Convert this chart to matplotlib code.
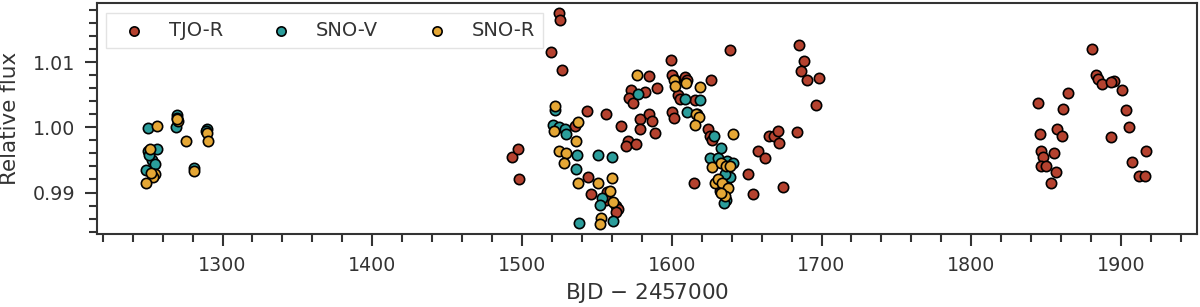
#!/usr/bin/env python3
"""
Relative flux light curve of the star from three instruments (TJO-R, SNO-V, SNO-R).
"""

import numpy as np
import matplotlib.pyplot as plt
from matplotlib.ticker import MultipleLocator, FormatStrFormatter

# TJO-R photometry: BJD - 2457000, relative flux
tjo_t = [1493.1, 1497.4, 1498.2, 1519.2, 1524.4, 1525.6, 1526.4, 1543.1, 1535.1,
         1544.1, 1546.4, 1555.9, 1557.0, 1556.4, 1563.0, 1564.2, 1562.6, 1566.3,
         1570.8, 1569.6, 1576.3, 1573.0, 1571.4, 1574.1, 1581.9, 1584.8, 1590.3,
         1578.6, 1578.5, 1584.8, 1586.8, 1589.0, 1599.3, 1600.4, 1608.6, 1610.4,
         1625.9, 1604.1, 1605.2, 1615.7, 1600.1, 1601.5, 1617.0, 1624.1, 1625.3,
         1627.0, 1614.8, 1639.0, 1650.8, 1654.5, 1657.4, 1662.5, 1665.2, 1668.5,
         1670.7, 1671.4, 1674.5, 1683.6, 1685.2, 1688.5, 1686.3, 1690.3, 1698.5,
         1696.3, 1636.0, 1632.0, 1880.3, 1883.6, 1884.7, 1887.4, 1895.2, 1893.5,
         1900.7, 1903.0, 1905.2, 1893.0, 1917.0, 1907.4, 1911.9, 1916.3, 1864.5,
         1844.7, 1861.2, 1857.4, 1860.7, 1845.6, 1846.3, 1848.1, 1855.2, 1846.3,
         1849.6, 1856.7, 1853.4]
tjo_f = [0.9955, 0.9967, 0.9921, 1.0115, 1.0175, 1.0165, 1.0088, 1.0025, 1.0002,
         0.9924, 0.9897, 1.0020, 0.9901, 0.9888, 0.9879, 0.9875, 0.9870, 1.0002,
         0.9979, 0.9971, 0.9975, 1.0058, 1.0045, 1.0038, 1.0054, 1.0078, 1.0061,
         1.0013, 0.9998, 1.0021, 1.0009, 0.9991, 1.0104, 1.0080, 1.0077, 1.0073,
         1.0072, 1.0050, 1.0044, 1.0042, 1.0023, 1.0014, 1.0020, 0.9998, 0.9987,
         0.9980, 0.9914, 1.0119, 0.9929, 0.9898, 0.9964, 0.9953, 0.9987, 0.9987,
         0.9994, 0.9976, 0.9908, 0.9993, 1.0126, 1.0102, 1.0086, 1.0072, 1.0075,
         1.0034, 0.9912, 0.9902, 1.0120, 1.0081, 1.0074, 1.0067, 1.0071, 1.0069,
         1.0057, 1.0026, 1.0000, 0.9985, 0.9963, 0.9947, 0.9926, 0.9926, 1.0052,
         1.0038, 1.0028, 0.9998, 0.9987, 0.9989, 0.9963, 0.9954, 0.9961, 0.9941,
         0.9941, 0.9932, 0.9915]

# SNO-V photometry
snov_t = [1250.5, 1269.7, 1269.2, 1289.7, 1250.5, 1256.4, 1252.6, 1255.1, 1248.7,
          1280.8, 1251.0, 1269.5, 1288.8,
          1522.3, 1520.8, 1524.8, 1528.5, 1529.6, 1537.0, 1536.3, 1537.9, 1550.8,
          1560.1, 1553.4, 1552.0, 1560.8, 1577.5, 1609.0, 1619.0, 1610.4, 1602.0,
          1627.9, 1633.0, 1625.3, 1630.8, 1637.0, 1640.8, 1636.4, 1638.6, 1635.3,
          1635.0]
snov_f = [0.99985, 1.0019, 1.0001, 0.9997, 0.9963, 0.9967, 0.9950, 0.9943, 0.9935,
          0.9938, 0.9958, 1.0014, 0.9995,
          1.0026, 1.0004, 1.0001, 0.9998, 0.9989, 0.9958, 0.9936, 0.9854, 0.9958,
          0.9954, 0.9892, 0.9881, 0.9857, 1.0051, 1.0043, 1.0042, 1.0024, 1.0072,
          0.9987, 0.9969, 0.9953, 0.9953, 0.9949, 0.9945, 0.9888, 0.9924, 0.9928,
          0.9884]

# SNO-R photometry
snor_t = [1256.4, 1270.5, 1269.8, 1275.6, 1289.7, 1290.5, 1251.8, 1255.1, 1253.8,
          1249.2, 1280.8, 1252.5,
          1522.3, 1521.4, 1537.2, 1536.3, 1524.5, 1529.2, 1528.1, 1537.1, 1550.8,
          1560.1, 1558.5, 1560.8, 1553.0, 1551.9, 1576.8, 1601.5, 1601.9, 1609.7,
          1618.6, 1616.4, 1618.0, 1615.7, 1640.8, 1627.0, 1632.6, 1636.4, 1638.6,
          1628.6, 1630.8, 1633.7, 1637.5, 1635.7, 1633.0]
snor_f = [1.0002, 1.0009, 1.0012, 0.9979, 0.9991, 0.9979, 0.9967, 0.9929, 0.9924,
          0.9915, 0.9933, 0.9930,
          1.0033, 0.9995, 1.0008, 0.9979, 0.9963, 0.9960, 0.9946, 0.9915, 0.9914,
          0.9923, 0.9903, 0.9885, 0.9861, 0.9852, 1.0081, 1.0072, 1.0064, 1.0068,
          1.0062, 1.0020, 1.0016, 1.0004, 0.9989, 0.9939, 0.9945, 0.9941, 0.9941,
          0.9914, 0.9920, 0.9915, 0.9907, 0.9894, 0.9899]

colors = {'TJO-R': '#b5422f', 'SNO-V': '#2b9d9b', 'SNO-R': '#e5a735'}

plt.rcParams['font.family'] = 'DejaVu Sans'
fig = plt.figure(figsize=(12, 3.07), dpi=100)
ax = fig.add_axes([0.0806, 0.2378, 0.9166, 0.7508])

kw = dict(s=55, edgecolors='black', linewidths=1.2, zorder=3)
ax.scatter(tjo_t, tjo_f, c=colors['TJO-R'], label='TJO-R', **kw)
ax.scatter(snov_t, snov_f, c=colors['SNO-V'], label='SNO-V', **kw)
ax.scatter(snor_t, snor_f, c=colors['SNO-R'], label='SNO-R', **kw)

ax.set_xlim(1216, 1950.5)
ax.set_ylim(0.98364, 1.01899)

ax.xaxis.set_major_locator(MultipleLocator(100))
ax.xaxis.set_minor_locator(MultipleLocator(20))
ax.yaxis.set_major_locator(MultipleLocator(0.01))
ax.yaxis.set_minor_locator(MultipleLocator(0.002))
ax.yaxis.set_major_formatter(FormatStrFormatter('%.2f'))

dark = '#333333'
for sp in ax.spines.values():
    sp.set_color(dark)
    sp.set_linewidth(1.5)
ax.tick_params(which='major', length=8.5, width=1.5, color=dark, pad=7,
               labelcolor=dark, labelsize=13.7)
ax.tick_params(which='minor', length=5.5, width=1.5, color=dark)

ax.set_xlabel('BJD $-$ 2457000', fontsize=15.5, color=dark, labelpad=5)
ax.set_ylabel('Relative flux', fontsize=15.5, color=dark, labelpad=9)

leg = ax.legend(loc='upper left', ncol=3, fontsize=14, frameon=True,
                borderaxespad=0.5, markerscale=0.9, fancybox=False)
leg.get_frame().set_edgecolor('#dddddd')
for t in leg.get_texts():
    t.set_color(dark)

fig.savefig('out.png', dpi=100)
